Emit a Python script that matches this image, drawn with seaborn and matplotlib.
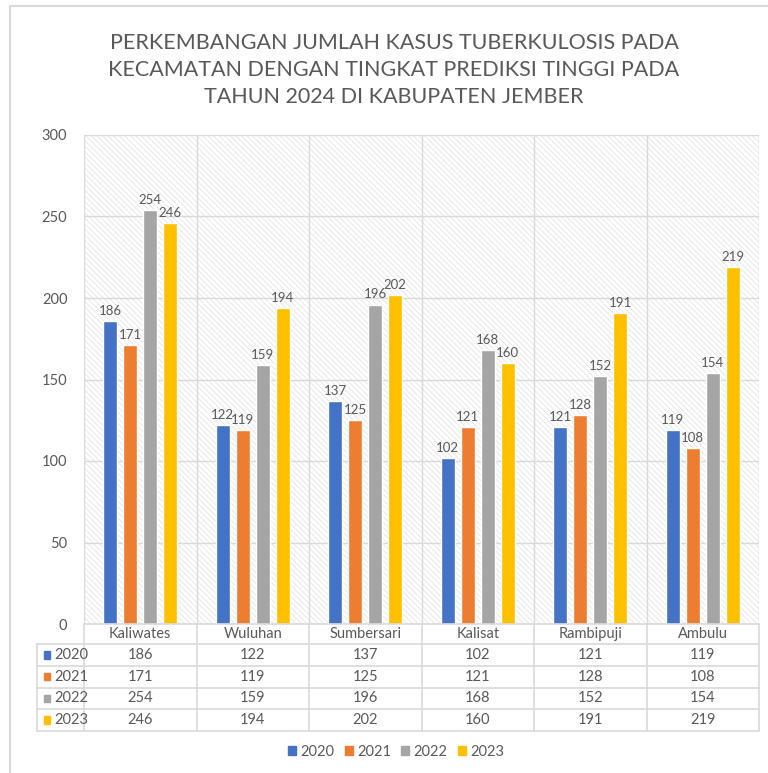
import numpy as np
import pandas as pd
import matplotlib.pyplot as plt
import seaborn as sns
from matplotlib.lines import Line2D
from matplotlib.patches import Rectangle

# data
kecamatan = ["Kaliwates", "Wuluhan", "Sumbersari", "Kalisat", "Rambipuji", "Ambulu"]
years = ["2020", "2021", "2022", "2023"]
kasus_2020 = [186, 122, 137, 102, 121, 119]
kasus_2021 = [171, 119, 125, 121, 128, 108]
kasus_2022 = [254, 159, 196, 168, 152, 154]
kasus_2023 = [246, 194, 202, 160, 191, 219]
colors = ["#4472C4", "#ED7D31", "#A5A5A5", "#FFC000"]
yticks = [0, 50, 100, 150, 200, 250, 300]

title = ("PERKEMBANGAN JUMLAH KASUS TUBERKULOSIS PADA\n"
         "KECAMATAN DENGAN TINGKAT PREDIKSI TINGGI PADA\n"
         "TAHUN 2024 DI KABUPATEN JEMBER")

series = [kasus_2020, kasus_2021, kasus_2022, kasus_2023]
df = pd.DataFrame({
    "Kecamatan": kecamatan * len(years),
    "Tahun": np.repeat(years, len(kecamatan)),
    "Kasus": sum(series, []),
})

sns.set_theme(style="white")
plt.rcParams["font.family"] = ["Lato", "DejaVu Sans"]
plt.rcParams["hatch.linewidth"] = 0.5
text_gray = "#595959"
grid_gray = "#D9D9D9"

W, H = 768, 773
fig = plt.figure(figsize=(W / 100, H / 100), dpi=100)

def box(x0, y0, x1, y1):
    # pixel box (top-left origin) -> figure fraction rect
    return [x0 / W, 1 - y1 / H, (x1 - x0) / W, (y1 - y0) / H]

ax = fig.add_axes(box(84, 135, 759, 624))

# hatched plot background
ax.patch.set_facecolor("white")
ax.patch.set_hatch("\\\\\\\\\\\\")
ax.patch.set_edgecolor("#E0E0E0")
ax.patch.set_linewidth(0)

sns.barplot(data=df, x="Kecamatan", y="Kasus", hue="Tahun", order=kecamatan,
            hue_order=years, palette=colors, width=0.71, gap=0.3,
            saturation=1, legend=False, ax=ax, zorder=3)

for cont in ax.containers:
    ax.bar_label(cont, fmt="%d", padding=3, color=text_gray, fontsize=9.5)

ax.set_xlim(-0.5, len(kecamatan) - 0.5)
ax.set_ylim(0, 300)
ax.set_yticks(yticks)
ax.set_yticklabels([str(t) for t in yticks], color=text_gray, fontsize=10.5)
ax.tick_params(axis="y", length=0, pad=12)
ax.set_xticks([])
ax.set_xlabel("")
ax.set_ylabel("")
for t in yticks[1:]:
    ax.axhline(t, color=grid_gray, lw=1, zorder=1)
for b in np.arange(0.5, len(kecamatan) - 0.5, 1):
    ax.axvline(b, color=grid_gray, lw=1, zorder=1)
for s in ax.spines.values():
    s.set_visible(False)
ax.axvline(-0.5, color=grid_gray, lw=1, zorder=1)
ax.axvline(len(kecamatan) - 0.5, color=grid_gray, lw=1, zorder=1)

# data table under the chart
tab = fig.add_axes(box(37, 624, 759, 731))
lab_w = (84 - 37) / (759 - 84) * len(kecamatan)
x_left = -0.5 - lab_w
tab.set_xlim(x_left, len(kecamatan) - 0.5)
tab.set_ylim(len(years) + 0.92, 0)
tab.axis("off")
line_kw = dict(color=grid_gray, lw=1.2, clip_on=False)
# horizontal rules
tab.add_line(Line2D([-0.5, len(kecamatan) - 0.5], [0, 0], **line_kw))
for r in range(len(years) + 1):
    y = 0.92 + r
    tab.add_line(Line2D([x_left, len(kecamatan) - 0.5], [y, y], **line_kw))
# vertical rules
tab.add_line(Line2D([x_left, x_left], [0.92, len(years) + 0.92], **line_kw))
for b in np.arange(-0.5, len(kecamatan), 1):
    tab.add_line(Line2D([b, b], [0, len(years) + 0.92], **line_kw))
for i, k in enumerate(kecamatan):
    tab.text(i, 0.46, k, ha="center", va="center", color=text_gray, fontsize=10.5)
for r, (yr, vals, c) in enumerate(zip(years, series, colors)):
    yc = 0.92 + r + 0.5
    tab.add_patch(Rectangle((x_left + 0.06, yc - 0.17), 0.06, 0.34, color=c, clip_on=False))
    tab.text(x_left + 0.15, yc, yr, ha="left", va="center", color=text_gray, fontsize=10.5)
    for i, v in enumerate(vals):
        tab.text(i, yc, str(v), ha="center", va="center", color=text_gray, fontsize=10.5)

# legend
handles = [Rectangle((0, 0), 1, 1, color=c) for c in colors]
fig.legend(handles, years, loc="center", bbox_to_anchor=(396 / W, 1 - 752 / H),
           ncol=4, frameon=False, fontsize=10.5, handlelength=0.55, handleheight=0.55,
           handletextpad=0.3, columnspacing=0.7, labelcolor=text_gray)

fig.text(394 / W, 1 - 70 / H, title, ha="center", va="center", color=text_gray,
         fontsize=15.5, linespacing=1.45)

# outer chart frame
fig.add_artist(Line2D([10 / W, 10 / W], [0, 1 - 6 / H], color=grid_gray, lw=1.5))
fig.add_artist(Line2D([10 / W, 1], [1 - 6 / H, 1 - 6 / H], color=grid_gray, lw=1.5))

fig.savefig("out.png", dpi=100, facecolor="white")
